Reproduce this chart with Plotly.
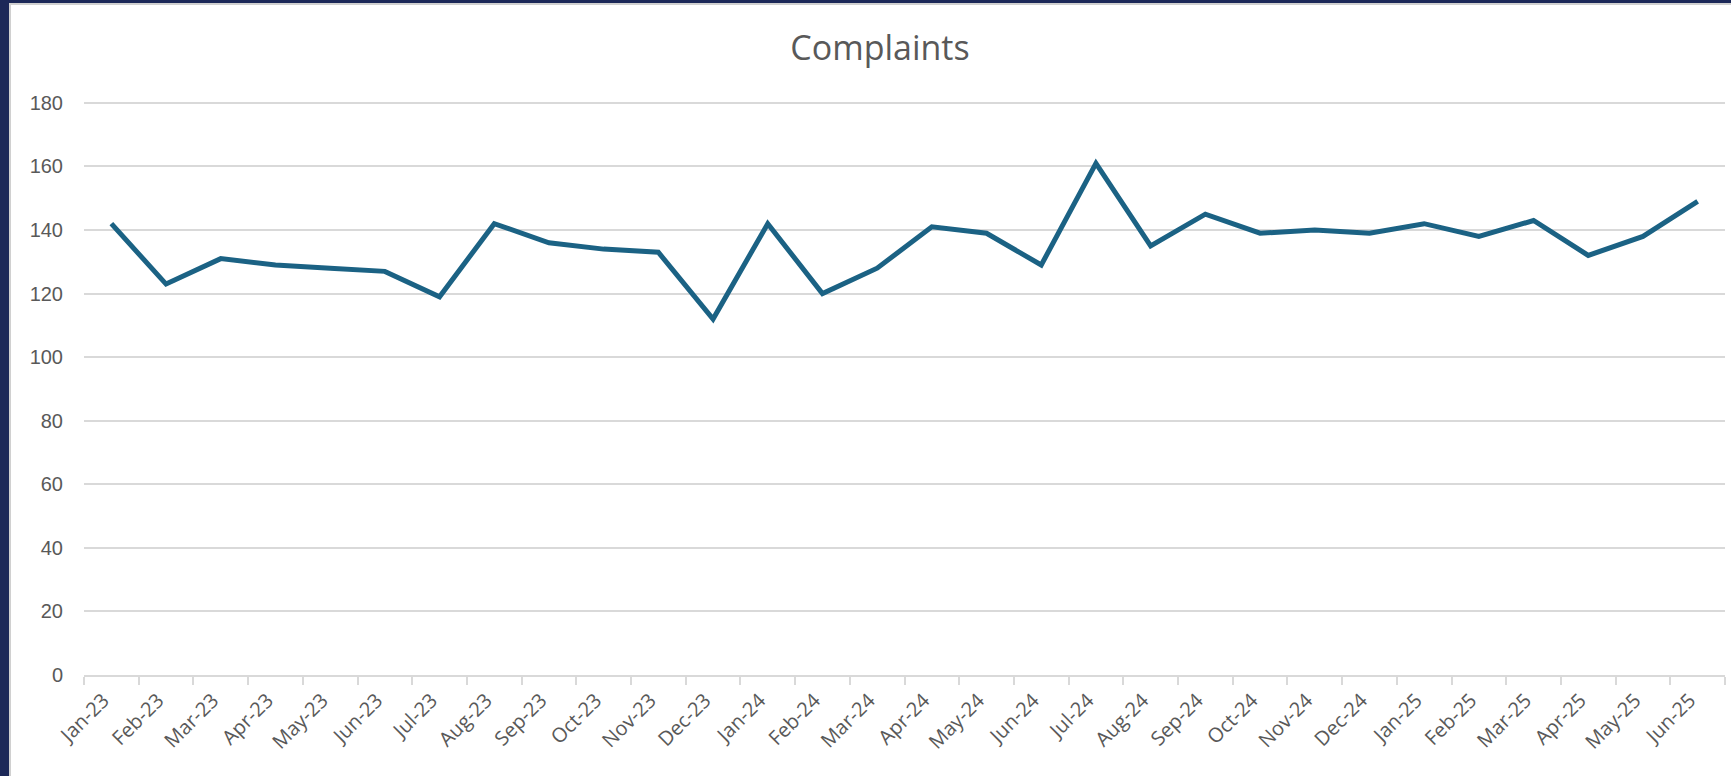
import plotly.graph_objects as go

months = ["Jan-23", "Feb-23", "Mar-23", "Apr-23", "May-23", "Jun-23", "Jul-23", "Aug-23",
          "Sep-23", "Oct-23", "Nov-23", "Dec-23", "Jan-24", "Feb-24", "Mar-24", "Apr-24",
          "May-24", "Jun-24", "Jul-24", "Aug-24", "Sep-24", "Oct-24", "Nov-24", "Dec-24",
          "Jan-25", "Feb-25", "Mar-25", "Apr-25", "May-25", "Jun-25"]
complaints = [142, 123, 131, 129, 128, 127, 119, 142, 136, 134, 133, 112, 142, 120, 128,
              141, 139, 129, 161, 135, 145, 139, 140, 139, 142, 138, 143, 132, 138, 149]
y_ticks = [0, 20, 40, 60, 80, 100, 120, 140, 160, 180]

W, H = 1731, 776
ML, MR, MT, MB = 84, 6, 101, 101
PW, PH = W - ML - MR, H - MT - MB
Y_MAX = 180.6  # a hair above 180 so the top gridline is drawn


def px_x(p):
    return (p - ML) / PW


def px_y(p):
    return (H - MB - p) / PH


fig = go.Figure()
fig.add_trace(go.Scatter(
    x=months, y=complaints, mode="lines",
    line=dict(color="#1B6284", width=5),
    hoverinfo="x+y", showlegend=False,
))

fig.update_layout(
    width=W, height=H,
    margin=dict(l=ML, r=MR, t=MT, b=MB),
    paper_bgcolor="#1C2858",
    plot_bgcolor="white",
    title=dict(text="Complaints", x=880 / W, xref="container", xanchor="center",
               y=1 - 48 / H, yref="container", yanchor="middle",
               font=dict(family="Open Sans", size=34, color="#595959")),
    shapes=[dict(type="rect", xref="paper", yref="paper",
                 x0=px_x(10), x1=px_x(W + 5), y0=px_y(H + 5), y1=px_y(4),
                 fillcolor="white", line=dict(color="#d0d0d0", width=2), layer="below")],
    xaxis=dict(type="category", range=[-0.5, len(months) - 0.5],
               tickson="boundaries", ticks="outside", ticklen=8,
               tickcolor="#d9d9d9", tickwidth=1.5, showline=True, linecolor="#d9d9d9",
               linewidth=1.5, showgrid=False, tickangle=-45, ticklabelstandoff=4,
               ticklabelshift=-8,
               tickfont=dict(family="Open Sans", size=20, color="#595959")),
    yaxis=dict(range=[0, Y_MAX], tickvals=y_ticks, showgrid=True, gridcolor="#d9d9d9",
               gridwidth=1.5, zeroline=False, showline=False, ticks="",
               ticklabelstandoff=20,
               tickfont=dict(family="Liberation Sans", size=20, color="#595959")),
)

fig.write_html("out.html", config={"displayModeBar": False},
               post_script="document.body.style.margin='0';document.body.style.overflow='hidden';")
